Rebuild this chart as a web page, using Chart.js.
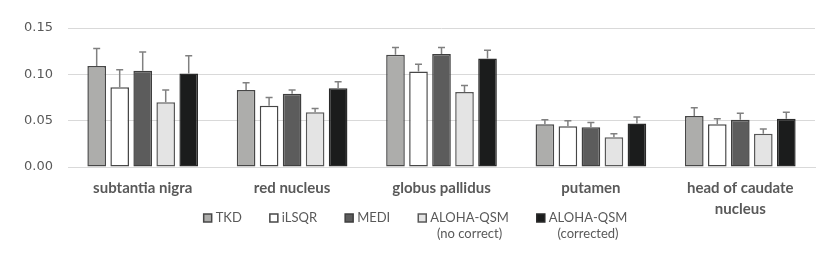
<!DOCTYPE html>
<html>
<head>
<meta charset="utf-8">
<script src="https://cdn.jsdelivr.net/npm/chart.js@4.4.1/dist/chart.umd.min.js"></script>
<style>
  html, body { margin: 0; padding: 0; background: #fff; }
  #wrap { width: 831px; height: 255px; position: relative; }
</style>
</head>
<body>
<div id="wrap"><canvas id="qsmChart"></canvas></div>
<script>
// regions (x categories)
var regions = ['subtantia nigra', 'red nucleus', 'globus pallidus', 'putamen', ['head of caudate', 'nucleus']];
var yTicks = [0, 0.05, 0.10, 0.15];

// methods
var methodNames = ['TKD', 'iLSQR', 'MEDI', ['ALOHA-QSM', '(no correct)'], ['ALOHA-QSM', '(corrected)']];

// mean values per method (one entry per region)
var tkd = [0.109, 0.083, 0.121, 0.046, 0.055];
var ilsqr = [0.086, 0.066, 0.103, 0.044, 0.046];
var medi = [0.104, 0.079, 0.122, 0.043, 0.051];
var alohaNoCorrect = [0.070, 0.059, 0.081, 0.032, 0.036];
var alohaCorrected = [0.101, 0.085, 0.117, 0.047, 0.052];

// standard deviations (drawn as + error bars)
var tkdErr = [0.019, 0.008, 0.008, 0.005, 0.009];
var ilsqrErr = [0.019, 0.009, 0.008, 0.006, 0.006];
var mediErr = [0.020, 0.004, 0.007, 0.005, 0.007];
var alohaNoCorrectErr = [0.013, 0.004, 0.007, 0.004, 0.005];
var alohaCorrectedErr = [0.019, 0.007, 0.009, 0.007, 0.007];

var fills = ['#adadab', '#ffffff', '#5c5c5c', '#e4e4e4', '#1b1c1c'];
var borders = ['#474747', '#474747', '#3f3f3f', '#595959', '#2a2a2a'];

var seriesValues = [tkd, ilsqr, medi, alohaNoCorrect, alohaCorrected];
var seriesErrors = [tkdErr, ilsqrErr, mediErr, alohaNoCorrectErr, alohaCorrectedErr];

var datasets = seriesValues.map(function (vals, i) {
    return {
        label: methodNames[i],
        data: vals,
        errors: seriesErrors[i],
        backgroundColor: fills[i],
        borderColor: borders[i],
        borderWidth: 1.5,
        borderSkipped: false,
        categoryPercentage: 0.77,
        barPercentage: 0.81
    };
});

// plus-only error bars, Excel style
var errorBars = {
    id: 'errorBars',
    afterDatasetsDraw: function (chart) {
        var ctx = chart.ctx;
        var yScale = chart.scales.y;
        ctx.save();
        ctx.strokeStyle = '#808080';
        ctx.lineWidth = 1.5;
        chart.data.datasets.forEach(function (ds, di) {
            var meta = chart.getDatasetMeta(di);
            meta.data.forEach(function (bar, i) {
                var top = yScale.getPixelForValue(ds.data[i] + ds.errors[i]);
                ctx.beginPath();
                ctx.moveTo(bar.x, bar.y);
                ctx.lineTo(bar.x, top);
                ctx.moveTo(bar.x - 3.5, top);
                ctx.lineTo(bar.x + 3.5, top);
                ctx.stroke();
            });
        });
        ctx.restore();
    }
};

// legend below the axis labels, multi-line entries
var bottomLegend = {
    id: 'bottomLegend',
    afterDraw: function (chart) {
        var ctx = chart.ctx;
        var area = chart.chartArea;
        var box = 8, gap = 4, spacing = 28, lineH = 16;
        var y0 = area.bottom + 51;
        ctx.save();
        ctx.font = '13px Lato';
        ctx.textBaseline = 'middle';
        ctx.textAlign = 'left';
        var items = chart.data.datasets.map(function (ds) {
            var lines = Array.isArray(ds.label) ? ds.label : [ds.label];
            var w = Math.max.apply(null, lines.map(function (l) { return ctx.measureText(l).width; }));
            return { lines: lines, w: w, fill: ds.backgroundColor, stroke: ds.borderColor };
        });
        var total = 0;
        items.forEach(function (it, i) { total += box + gap + it.w + (i < items.length - 1 ? spacing : 0); });
        var x = chart.width / 2 - total / 2;
        items.forEach(function (it) {
            ctx.fillStyle = it.fill;
            ctx.fillRect(x, y0 - box / 2, box, box);
            ctx.strokeStyle = it.stroke;
            ctx.lineWidth = 1.5;
            ctx.strokeRect(x, y0 - box / 2, box, box);
            ctx.fillStyle = '#595959';
            it.lines.forEach(function (l, k) {
                var lw = ctx.measureText(l).width;
                ctx.fillText(l, x + box + gap + (it.w - lw) / 2, y0 + k * lineH);
            });
            x += box + gap + it.w + spacing;
        });
        ctx.restore();
    }
};

new Chart(document.getElementById('qsmChart').getContext('2d'), {
    type: 'bar',
    data: { labels: regions, datasets: datasets },
    options: {
        responsive: true,
        maintainAspectRatio: false,
        animation: false,
        layout: { padding: { top: 28, right: 16, left: 0, bottom: 0 } },
        plugins: {
            legend: { display: false },
            tooltip: { enabled: false }
        },
        scales: {
            x: {
                grid: { display: false, drawTicks: false },
                border: { color: '#d9d9d9', width: 1 },
                ticks: {
                    color: '#595959',
                    padding: 11,
                    maxRotation: 0,
                    autoSkip: false,
                    font: { family: 'Lato', size: 15, weight: 'bold', lineHeight: '21px' }
                },
                afterFit: function (scale) { scale.height = 88; }
            },
            y: {
                min: 0,
                max: 0.15,
                afterBuildTicks: function (scale) {
                    scale.ticks = yTicks.map(function (v) { return { value: v }; });
                },
                grid: { color: '#d9d9d9', lineWidth: 1, drawTicks: false },
                border: { display: false },
                ticks: {
                    color: '#595959',
                    padding: 15,
                    font: { family: 'DejaVu Sans', size: 13 },
                    callback: function (v) { return v.toFixed(2); }
                },
                afterFit: function (scale) { scale.width = 68; }
            }
        }
    },
    plugins: [errorBars, bottomLegend]
});
</script>
</body>
</html>
